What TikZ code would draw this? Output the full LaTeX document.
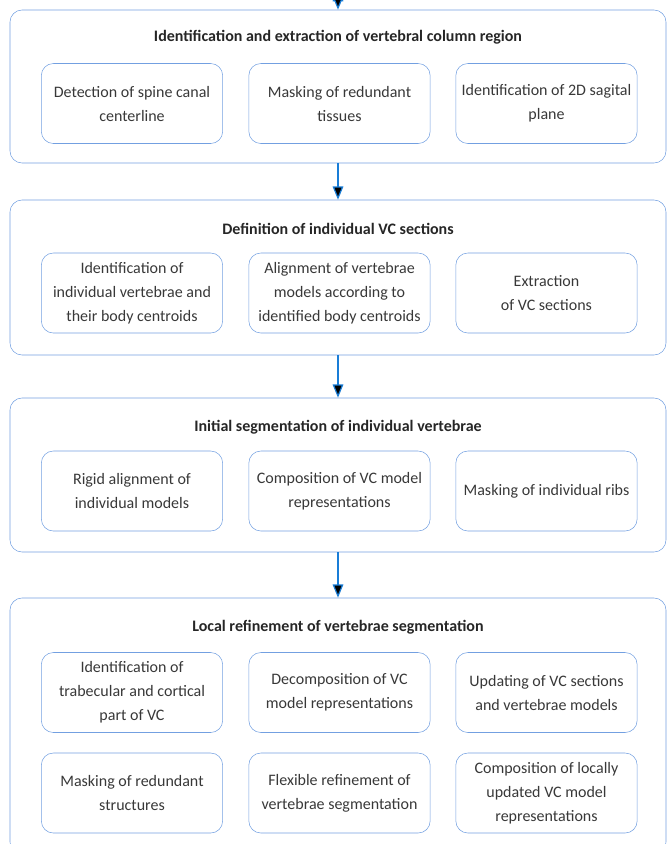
\documentclass[tikz,border=0pt]{standalone}
\usepackage{fontspec}
\setmainfont{Carlito}
\usetikzlibrary{arrows.meta,positioning}
\definecolor{boxblue}{RGB}{115,160,225}
\definecolor{arrblue}{RGB}{25,125,215}
\tikzset{
    section/.style={
           rectangle,
           rounded corners=9pt,
           draw=boxblue, thin,
           minimum width=492pt,
           inner sep=0pt
           },
    task/.style={
           rectangle,
           rounded corners=9pt,
           draw=boxblue, thin,
           minimum width=136pt,
           minimum height=60pt,
           align=center,
           text=black!78,
           font=\fontsize{12}{18}\selectfont
           },
    head/.style={
           text=black!85,
           font=\bfseries\fontsize{12}{14}\selectfont
           },
    flow/.style={
           draw=arrblue, line width=0.9pt,
           -{Triangle[length=10pt,width=8pt]}
           }
}

\begin{document}
\begin{tikzpicture}[x=0.75pt,y=-0.75pt]
   \useasboundingbox (0,0) rectangle (669,844);
   % stage 1
   \node[section, minimum height=114.75pt] (s1) at (338,86.5) {};
   \node[head] (h1) at (338,37) {Identification and extraction of vertebral column region};
   \node[task] (a1) at (132,103.5)   {Detection of spine canal\\centerline};
   \node[task] (a2) at (339.5,103.5) {Masking of redundant\\tissues};
   \node[task] (a3) at (546.5,103.5) {Identification of 2D sagital\\plane};
   % stage 2
   \node[section, minimum height=116.25pt] (s2) at (338,277.5) {};
   \node[head] (h2) at (338,229) {Definition of individual VC sections};
   \node[task] (b1) at (132,293)   {Identification of\\individual vertebrae and\\their body centroids};
   \node[task] (b2) at (339.5,293) {Alignment of vertebrae\\models according to\\identified body centroids};
   \node[task] (b3) at (546.5,293) {Extraction\\of VC sections};
   % stage 3
   \node[section, minimum height=115.5pt] (s3) at (338,475) {};
   \node[head] (h3) at (338,427) {Initial segmentation of individual vertebrae};
   \node[task] (c1) at (132,491)   {Rigid alignment of\\individual models};
   \node[task] (c2) at (339.5,491) {Composition of VC model\\representations};
   \node[task] (c3) at (546.5,491) {Masking of individual ribs};
   % stage 4
   \node[section, minimum height=192pt] (s4) at (338,726) {};
   \node[head] (h4) at (338,627) {Local refinement of vertebrae segmentation};
   \node[task] (d1) at (132,692.5)   {Identification of\\trabecular and cortical\\part of VC};
   \node[task] (d2) at (339.5,692.5) {Decomposition of VC\\model representations};
   \node[task] (d3) at (546.5,692.5) {Updating of VC sections\\and vertebrae models};
   \node[task] (d4) at (132,793)     {Masking of redundant\\structures};
   \node[task] (d5) at (339.5,793)   {Flexible refinement of\\vertebrae segmentation};
   \node[task] (d6) at (546.5,793)   {Composition of locally\\updated VC model\\representations};
   \coordinate (in) at (338,-12);
   \path[flow]
    (in) edge (s1.north)
    (s1) edge (s2)
    (s2) edge (s3)
    (s3) edge (s4)
    ;
\end{tikzpicture}
\end{document}
